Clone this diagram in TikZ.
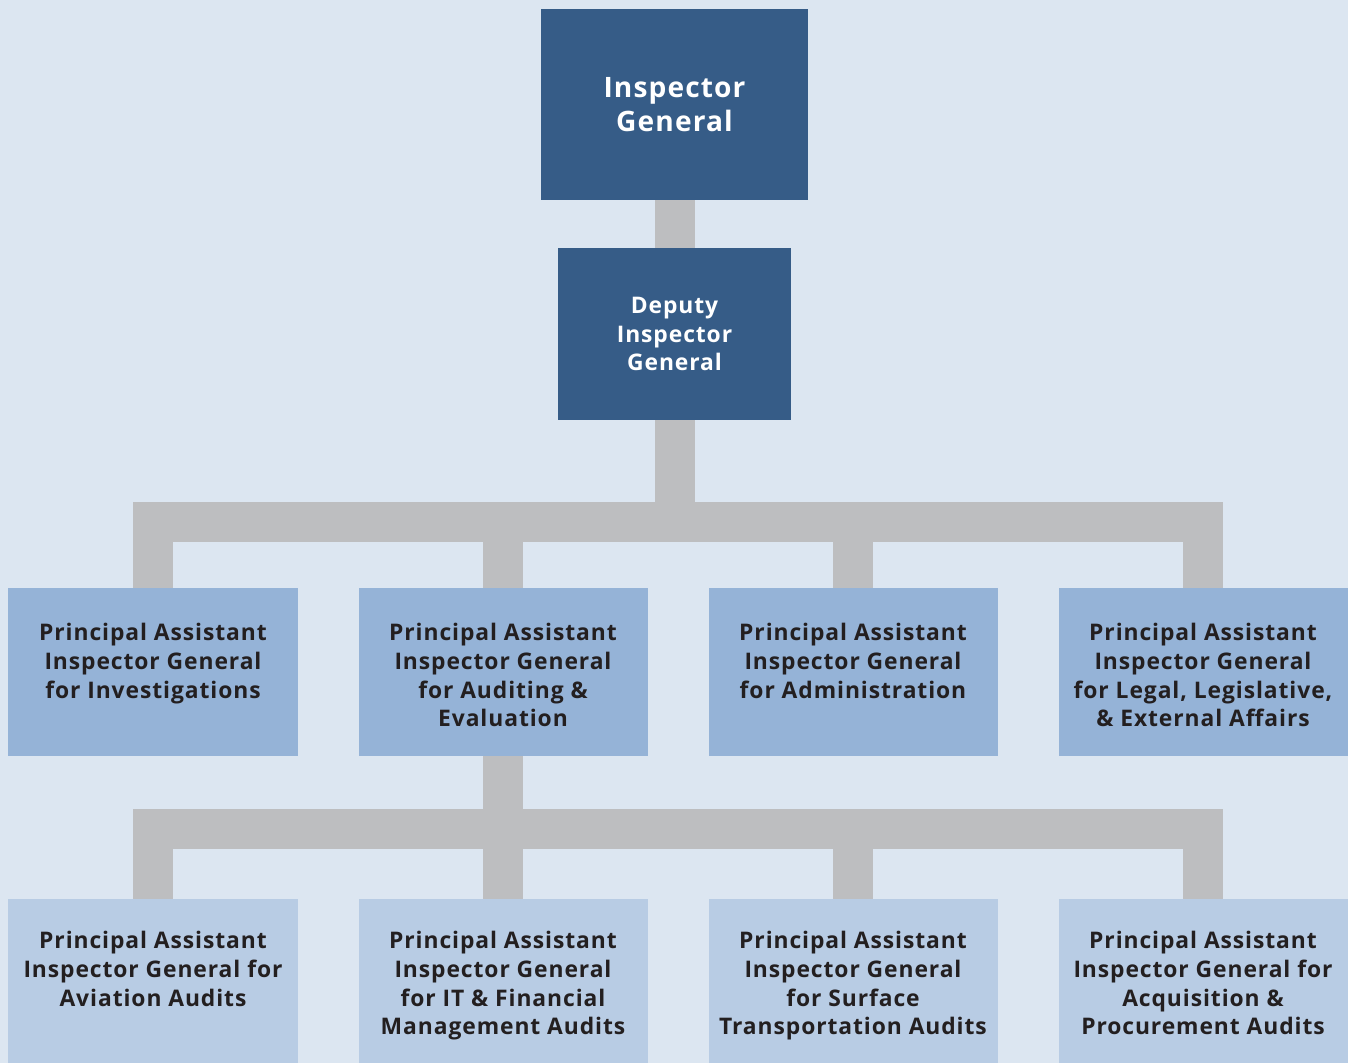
\documentclass[tikz,border=0pt]{standalone}
\usepackage{fontspec}
\setmainfont{Open Sans}[LetterSpace=4]
\usetikzlibrary{positioning}

\definecolor{paper}{HTML}{DCE6F1}
\definecolor{topblue}{HTML}{365C87}
\definecolor{midblue}{HTML}{95B3D7}
\definecolor{lowblue}{HTML}{B8CCE4}
\definecolor{linkgray}{HTML}{BDBEC0}
\definecolor{ink}{HTML}{231F20}

\begin{document}
\begin{tikzpicture}[%
    node distance=7cm,
    on grid,
    head/.style={rectangle, fill=topblue, text=white, align=center,
        font=\bfseries\fontsize{16}{19.8}\selectfont, inner sep=0pt},
    unit/.style={rectangle, fill=midblue, minimum width=5.78cm,
        minimum height=3.36cm, inner sep=0pt},
    sub/.style={rectangle, fill=lowblue, minimum width=5.78cm,
        minimum height=3.28cm, inner sep=0pt},
    lbl/.style={anchor=north, align=center, text=ink, inner sep=0pt,
        font=\bfseries\fontsize{13}{16.4}\selectfont},
    link/.style={draw=linkgray, line width=0.8cm, line join=miter}
    ]

    \useasboundingbox[fill=paper] (0,0) rectangle (26.96,-21.26);

    % top of the chart
    \node[head, minimum width=5.34cm, minimum height=3.82cm] (ig) at (13.49,-2.09) {Inspector\\General};
    \node[head, minimum width=4.66cm, minimum height=3.44cm,
        font=\bfseries\fontsize{13}{16.2}\selectfont] (dig) at (13.49,-6.68) {Deputy\\Inspector\\General};

    % principal assistants
    \node[unit] (aud) at (10.06,-13.44) {};
    \node[unit, left=of aud] (inv) {};
    \node[unit, right=of aud] (adm) {};
    \node[unit, right=of adm] (leg) {};

    % audit offices
    \node[sub, below=6.18cm of aud] (itf) {};
    \node[sub, left=of itf] (avi) {};
    \node[sub, right=of itf] (sur) {};
    \node[sub, right=of sur] (acq) {};

    \node[lbl] (invtxt) at ([yshift=-0.7cm]inv.north) {Principal Assistant\\Inspector General\\for Investigations};
    \node[lbl] (audtxt) at ([yshift=-0.7cm]aud.north) {Principal Assistant\\Inspector General\\for Auditing \&\\Evaluation};
    \node[lbl] (admtxt) at ([yshift=-0.7cm]adm.north) {Principal Assistant\\Inspector General\\for Administration};
    \node[lbl] (legtxt) at ([yshift=-0.7cm]leg.north) {Principal Assistant\\Inspector General\\for Legal, Legislative,\\\& External Affairs};

    \node[lbl] (avitxt) at ([yshift=-0.64cm]avi.north) {Principal Assistant\\Inspector General for\\Aviation Audits};
    \node[lbl] (itftxt) at ([yshift=-0.64cm]itf.north) {Principal Assistant\\Inspector General\\for IT \& Financial\\Management Audits};
    \node[lbl] (surtxt) at ([yshift=-0.64cm]sur.north) {Principal Assistant\\Inspector General\\for Surface\\Transportation Audits};
    \node[lbl] (acqtxt) at ([yshift=-0.64cm]acq.north) {Principal Assistant\\Inspector General for\\Acquisition \&\\Procurement Audits};

    \coordinate (bus1) at (13.49,-10.44);
    \coordinate (bus2) at (10.06,-16.58);

    \path[link] (ig) -- (dig);
    \path[link] (dig.south) -- (bus1) -| (inv.north);
    \path[link] (bus1) -| (aud.north);
    \path[link] (bus1) -| (adm.north);
    \path[link] (bus1) -| (leg.north);
    \path[link] (aud.south) -- (bus2) -| (avi.north);
    \path[link] (bus2) -| (itf.north);
    \path[link] (bus2) -| (sur.north);
    \path[link] (bus2) -| (acq.north);

\end{tikzpicture}
\end{document}
